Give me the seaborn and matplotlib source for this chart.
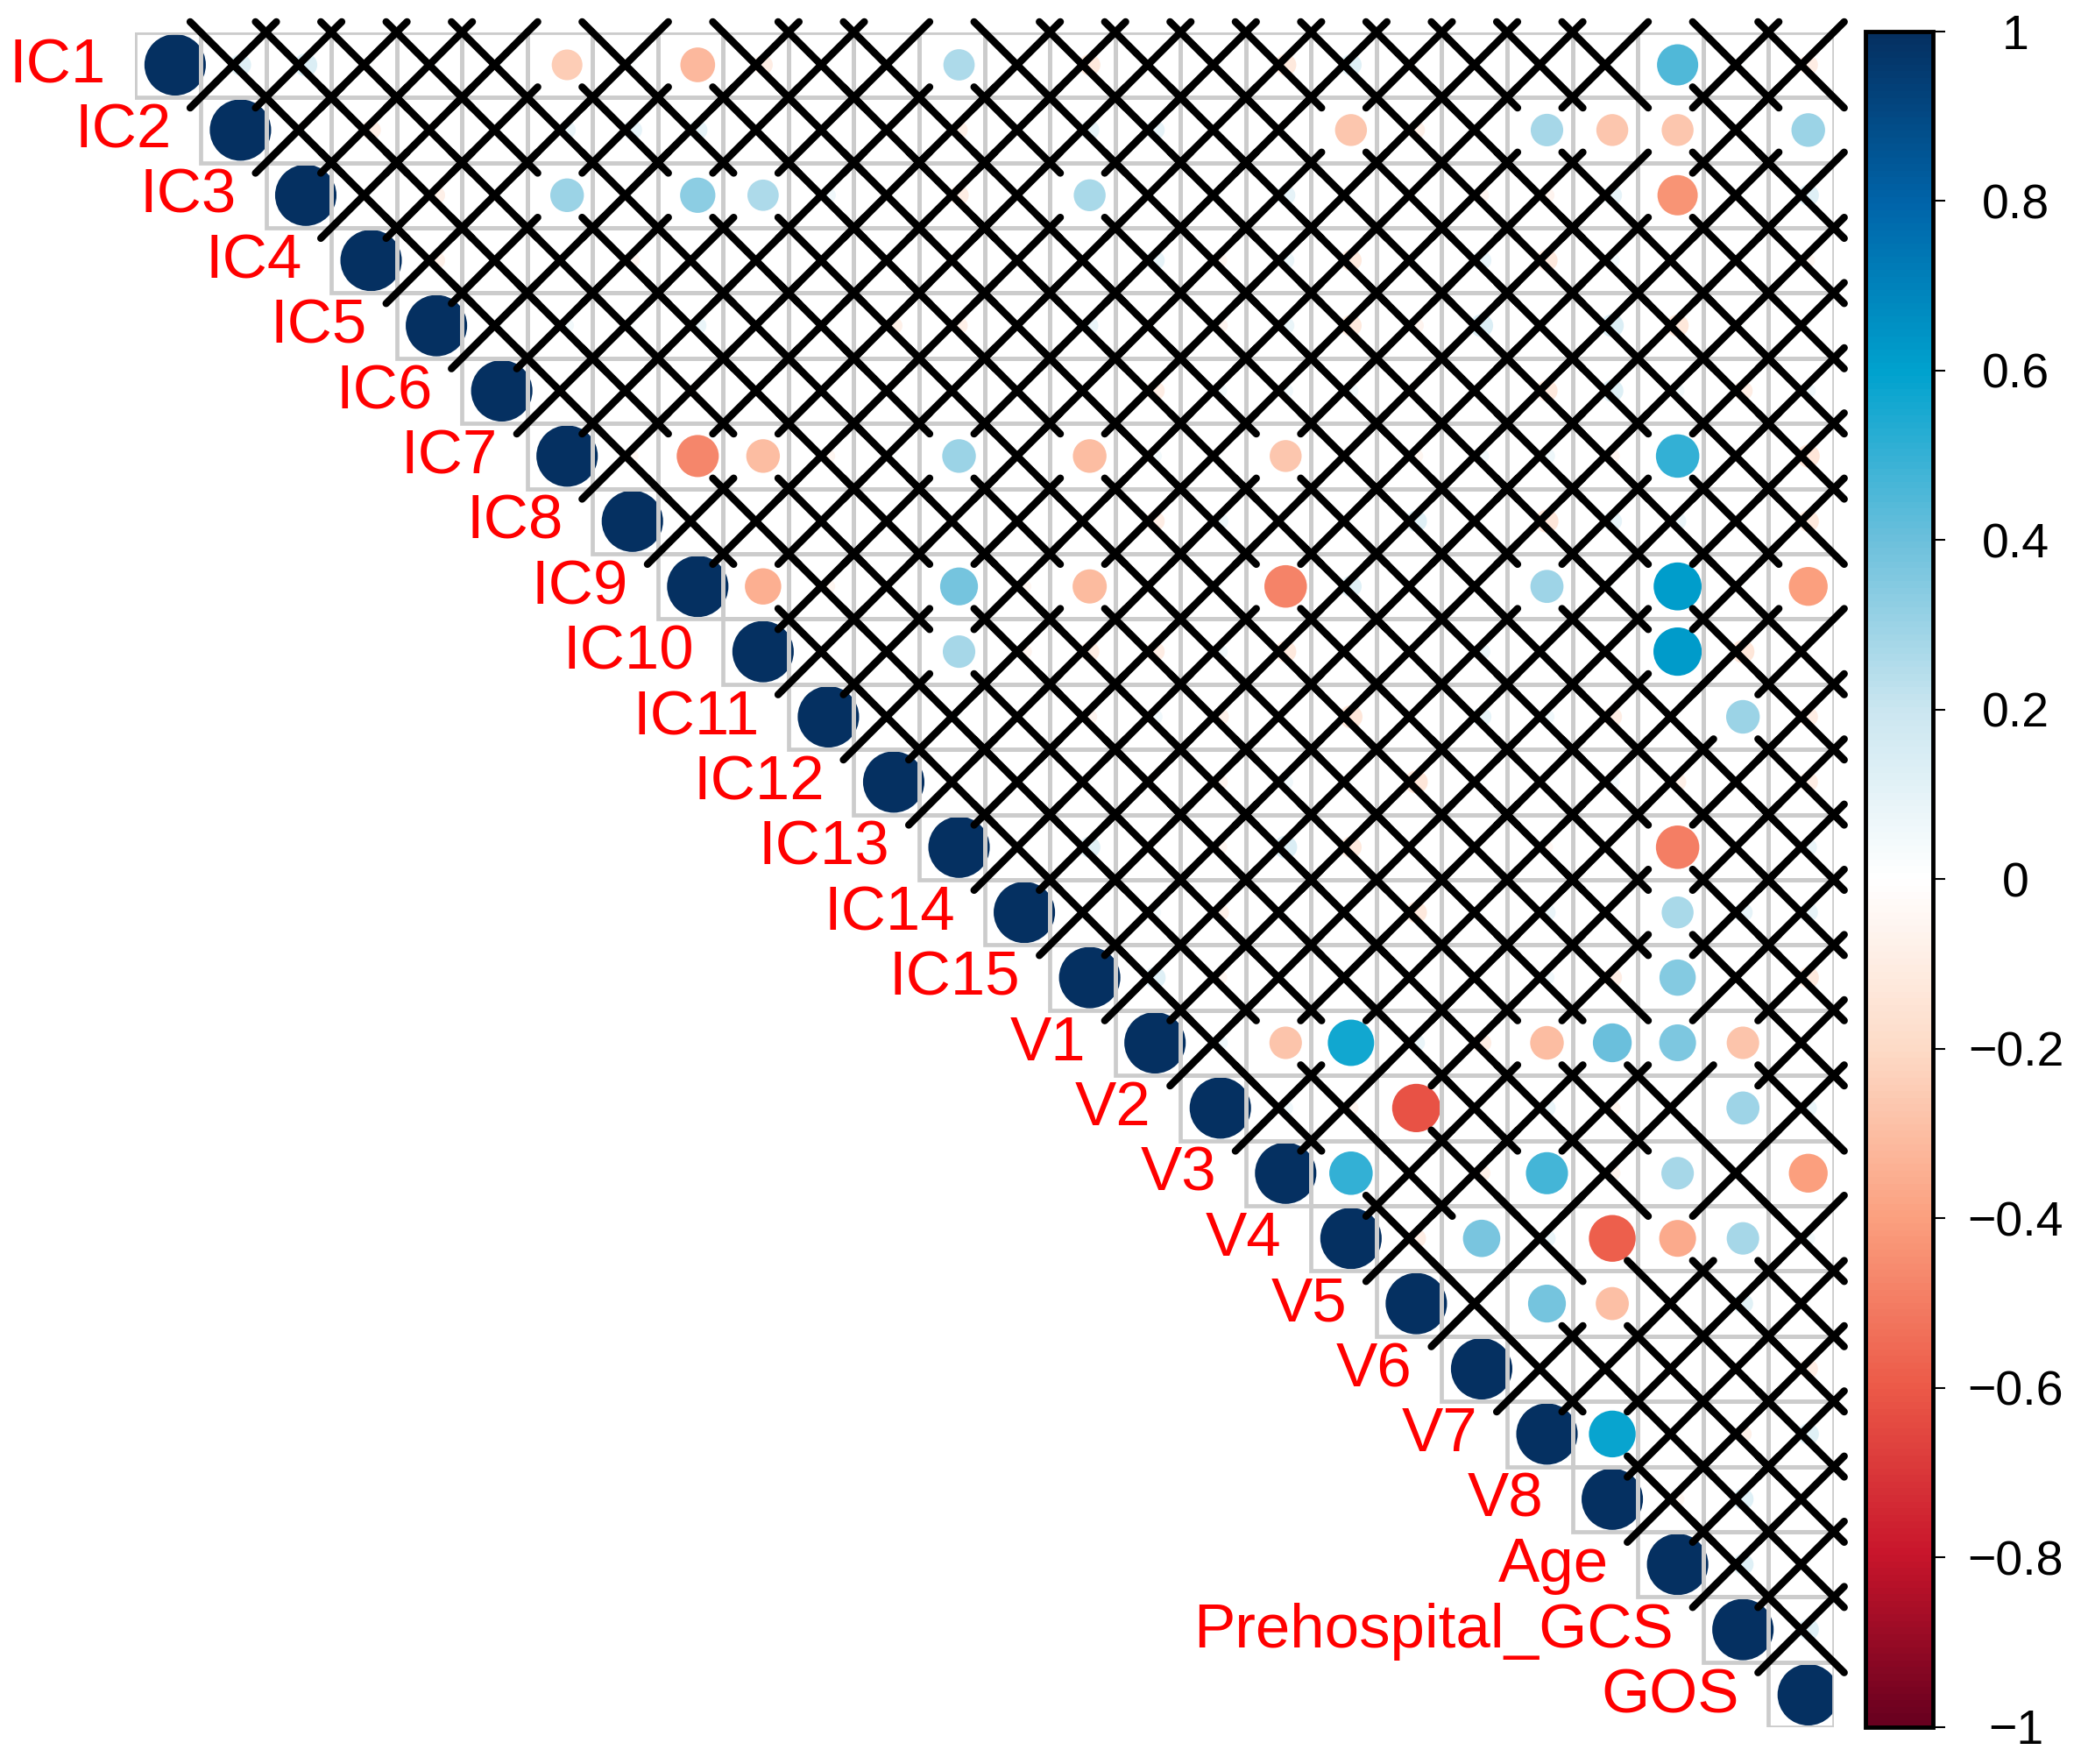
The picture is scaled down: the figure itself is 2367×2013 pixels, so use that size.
import numpy as np
import pandas as pd
import matplotlib
matplotlib.use("Agg")
import matplotlib.pyplot as plt
import seaborn as sns
from matplotlib.colors import LinearSegmentedColormap, Normalize
from matplotlib.cm import ScalarMappable
from matplotlib.patches import Rectangle
from matplotlib.collections import LineCollection

# ---------------- data ----------------
variables = ["IC1", "IC2", "IC3", "IC4", "IC5", "IC6", "IC7", "IC8", "IC9", "IC10",
             "IC11", "IC12", "IC13", "IC14", "IC15", "V1", "V2", "V3", "V4", "V5",
             "V6", "V7", "V8", "Age", "Prehospital_GCS", "GOS"]

# upper triangle correlations: row i holds columns i+1 .. 25
upper_r = [
    [0.12, 0.14, 0.01, 0.01, 0.01, -0.25, 0.01, -0.32, -0.10, 0.01, 0.01, 0.26, 0.01, -0.12, 0.01, 0.01, -0.12, 0.12, 0.01, 0.01, 0.01, 0.01, 0.45, 0.01, -0.10],
    [0.01, -0.10, 0.01, 0.01, 0.08, 0.10, 0.10, 0.01, 0.01, 0.01, -0.08, 0.01, 0.10, 0.10, 0.01, 0.01, -0.27, -0.08, 0.01, 0.28, -0.27, -0.27, 0.01, 0.30],
    [0.01, -0.08, 0.01, 0.30, 0.01, 0.33, 0.26, 0.06, 0.01, -0.10, 0.01, 0.27, 0.01, 0.01, 0.10, 0.01, 0.01, -0.06, -0.06, 0.10, -0.43, 0.01, 0.12],
    [-0.08, 0.01, 0.01, -0.06, 0.01, 0.01, 0.01, 0.01, 0.01, 0.01, 0.01, 0.10, -0.05, 0.08, -0.12, 0.01, 0.10, -0.12, 0.06, 0.01, 0.01, -0.05],
    [0.01, 0.05, 0.01, 0.08, 0.01, 0.01, -0.08, -0.08, 0.01, 0.08, 0.01, -0.06, 0.08, -0.12, -0.06, 0.14, 0.01, 0.14, -0.13, 0.01, 0.01],
    [0.01, 0.01, 0.01, 0.01, 0.01, 0.01, 0.01, 0.01, 0.01, -0.10, 0.05, 0.06, 0.06, 0.01, 0.01, -0.12, 0.13, 0.05, -0.10, 0.06],
    [-0.04, -0.47, -0.30, -0.05, 0.01, 0.30, 0.01, -0.30, 0.05, 0.01, -0.27, 0.01, -0.05, 0.06, 0.07, -0.06, 0.50, 0.01, -0.14],
    [0.01, 0.01, 0.01, 0.01, 0.01, 0.01, 0.01, -0.10, 0.07, 0.01, 0.01, 0.12, 0.01, -0.14, 0.10, 0.08, 0.01, -0.12],
    [-0.35, -0.05, 0.01, 0.38, -0.05, -0.31, 0.01, 0.01, -0.48, 0.12, 0.01, 0.01, 0.29, 0.01, 0.61, 0.01, -0.40],
    [0.01, 0.01, 0.28, -0.06, -0.10, -0.10, 0.06, -0.12, 0.01, 0.01, 0.08, 0.01, 0.01, 0.62, -0.14, 0.01],
    [0.01, 0.01, 0.01, -0.06, 0.06, -0.08, 0.01, -0.14, 0.01, 0.10, 0.06, -0.10, 0.01, 0.30, -0.10],
    [0.01, 0.01, 0.01, 0.01, -0.06, 0.06, 0.01, -0.14, 0.01, 0.01, 0.06, -0.08, 0.01, -0.10],
    [0.01, 0.12, 0.01, -0.05, 0.14, -0.12, 0.01, 0.01, -0.04, 0.01, -0.50, 0.01, 0.08],
    [0.01, 0.04, -0.08, 0.01, 0.01, -0.12, 0.01, 0.08, 0.01, 0.27, 0.10, 0.10],
    [0.12, -0.05, 0.01, 0.01, 0.01, 0.01, 0.06, -0.10, 0.35, 0.01, -0.12],
    [0.06, -0.28, 0.57, 0.08, -0.10, -0.30, 0.40, 0.36, -0.28, 0.01],
    [0.06, -0.06, -0.62, 0.01, 0.08, -0.07, 0.01, 0.29, 0.08],
    [0.50, 0.01, -0.08, 0.47, -0.07, 0.28, 0.01, -0.40],
    [-0.10, 0.37, 0.08, -0.58, -0.36, 0.28, 0.05],
    [0.01, 0.38, -0.29, 0.01, 0.11, 0.01],
    [0.01, 0.01, 0.01, 0.01, -0.10],
    [0.58, 0.01, -0.08, 0.12],
    [-0.05, 0.12, 0.01],
    [0.12, 0.01],
    [0.12],
]

# significant (not crossed) columns for each row
sig_cols = [
    [6, 8, 12, 23],
    [18, 21, 22, 23, 25],
    [6, 8, 9, 14, 23],
    [],
    [],
    [],
    [8, 9, 12, 14, 17, 23],
    [],
    [9, 12, 14, 17, 21, 23, 25],
    [12, 23],
    [24],
    [],
    [23],
    [23],
    [23],
    [17, 18, 21, 22, 23, 24],
    [19, 24],
    [18, 21, 23, 25],
    [20, 22, 23, 24],
    [21, 22],
    [],
    [22],
    [],
    [],
    [],
]

cb_ticks = [-1, -0.8, -0.6, -0.4, -0.2, 0, 0.2, 0.4, 0.6, 0.8, 1]
cb_labels = ["\u22121", "\u22120.8", "\u22120.6", "\u22120.4", "\u22120.2", "0",
             "0.2", "0.4", "0.6", "0.8", "1"]

palette_stops = [(-1.0, "#67001F"), (-0.8, "#C8152B"), (-0.6, "#EC5A48"),
                 (-0.4, "#FBA07F"), (-0.2, "#FDDBC7"), (0.0, "#FFFFFF"),
                 (0.2, "#CBE6F0"), (0.4, "#6CC0DC"), (0.6, "#00A2CE"),
                 (0.8, "#0064A9"), (1.0, "#053061")]

# ---------------- build ----------------
sns.set_style("white")
plt.rcParams["font.family"] = ["Liberation Sans", "DejaVu Sans"]

cmap = LinearSegmentedColormap.from_list(
    "corr", [((v + 1) / 2, c) for v, c in palette_stops], N=256)

n = len(variables)
records = []
for i in range(n):
    records.append(dict(row=i, col=i, r=1.0, sig=True))
    if i < len(upper_r):
        for k, v in enumerate(upper_r[i]):
            j = i + 1 + k
            records.append(dict(row=i, col=j, r=v, sig=(j in sig_cols[i])))
df = pd.DataFrame(records)
df["absr"] = df["r"].abs()
df["xpos"] = df["col"] + 0.11

W, H = 2367, 2013
fig = plt.figure(figsize=(W / 100, H / 100), dpi=100)
gl, gr, gt, gb = 154.4, 2092.8, 36.8, 1971.2
ax = fig.add_axes([gl / W, 1 - gb / H, (gr - gl) / W, (gb - gt) / H])

cell_pt = (gr - gl) / n * 72 / 100
smax = (0.94 * cell_pt) ** 2

sns.scatterplot(data=df, x="xpos", y="row", hue="r", palette=cmap,
                hue_norm=(-1, 1), size="absr", sizes=(0, smax),
                size_norm=(0, 1), linewidth=0, legend=False, ax=ax, zorder=2)

# grid
for _, rec in df.iterrows():
    ax.add_patch(Rectangle((rec["col"] - 0.5, rec["row"] - 0.5), 1, 1,
                           fill=False, edgecolor="#CCCCCC", linewidth=3.4,
                           zorder=3))

# crosses for non-significant cells
a = 0.66
segs = []
for _, rec in df[~df["sig"]].iterrows():
    x, y = rec["col"], rec["row"]
    segs.append([(x - a, y - a), (x + a, y + a)])
    segs.append([(x - a, y + a), (x + a, y - a)])
lc = LineCollection(segs, colors="black", linewidths=6.0, capstyle="round",
                    zorder=4, clip_on=False)
ax.add_collection(lc)

# labels
for i, name in enumerate(variables):
    ax.text(i - 0.5 - 0.45, i + 0.27, name, ha="right", va="baseline",
            color="#FF0000", fontsize=51, clip_on=False)

ax.set_xlim(-0.5, n - 0.5)
ax.set_ylim(n - 0.5, -0.5)
ax.axis("off")

# colorbar
cax = fig.add_axes([2129 / W, 1 - 1970.5 / H, 77 / W, (1970.5 - 36) / H])
cb = fig.colorbar(ScalarMappable(norm=Normalize(-1, 1), cmap=cmap), cax=cax,
                  ticks=cb_ticks)
cb.set_ticklabels(cb_labels)
cb.outline.set_linewidth(3.5)
cb.outline.set_edgecolor("black")
cax.tick_params(length=10, width=1.5, pad=58, labelsize=40, direction="out",
                colors="black", labelcolor="black")
for lab in cax.get_yticklabels():
    lab.set_horizontalalignment("center")

fig.savefig("out.png", dpi=100, facecolor="white")
